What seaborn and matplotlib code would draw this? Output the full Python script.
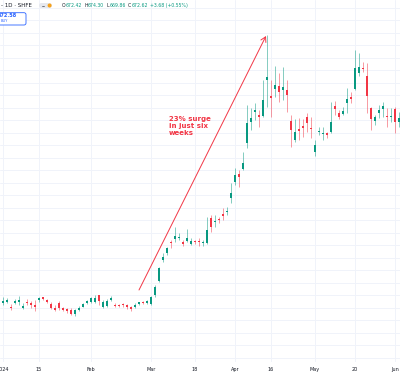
import matplotlib
matplotlib.use("Agg")
import matplotlib.pyplot as plt
from matplotlib.patches import FancyBboxPatch, Circle
import numpy as np
import pandas as pd
import seaborn as sns

# daily candles, 2 Jan 2024 .. 3 Jun 2024 (trading days only)
opens = [481.7, 482.4, 480.4, 482.0, 482.2, 479.8, 482.4, 481.8, 481.0, 483.0,
         484.0, 483.0, 481.4, 480.0, 482.0, 479.6, 479.4, 479.0, 477.4, 479.0,
         480.4, 482.0, 482.4, 482.4, 485.0, 480.4, 480.8, 483.2, 481.2, 481.0,
         481.4, 481.0, 480.0, 480.2, 481.4, 482.4, 482.0, 481.4, 485.0, 490.7,
         499.0, 501.9, 506.3, 507.3, 507.7, 506.2, 506.6, 505.4, 506.7, 506.6,
         505.8, 505.7, 515.8, 514.2, 515.3, 517.4, 518.2, 523.7, 530.3, 533.4,
         535.3, 545.7, 554.1, 558.3, 557.0, 556.7, 571.0, 564.6, 567.4, 568.6,
         567.0, 567.0, 554.7, 547.0, 551.3, 552.6, 556.1, 551.9, 542.3, 550.2,
         549.3, 549.7, 550.3, 560.6, 557.7, 557.3, 561.7, 564.1, 567.3, 573.7,
         575.9, 572.6, 559.9, 554.7, 557.9, 559.3, 556.6, 556.1, 559.5, 554.3]
highs = [484.2, 483.8, 481.4, 483.4, 484.8, 481.8, 483.4, 482.6, 483.0, 484.4,
         484.4, 483.4, 482.2, 481.0, 482.6, 480.2, 479.8, 479.8, 479.4, 480.6,
         481.8, 483.2, 484.2, 485.2, 485.2, 483.0, 483.4, 484.6, 481.8, 481.4,
         482.0, 481.6, 480.6, 481.8, 482.4, 482.8, 483.0, 484.6, 489.0, 496.3,
         501.7, 504.3, 507.0, 512.1, 509.7, 507.0, 511.3, 507.7, 507.2, 507.7,
         507.0, 516.3, 517.0, 517.0, 516.3, 519.7, 520.3, 529.7, 535.7, 535.0,
         542.3, 561.0, 559.7, 561.9, 559.0, 571.0, 589.0, 571.0, 576.6, 573.8,
         576.2, 571.0, 557.0, 555.3, 555.7, 555.3, 557.7, 556.3, 547.0, 552.3,
         552.3, 550.3, 562.3, 562.7, 559.0, 560.3, 567.7, 566.3, 583.0, 581.9,
         578.3, 577.7, 560.3, 557.0, 561.0, 562.3, 559.7, 559.7, 560.3, 558.2]
lows = [481.0, 482.0, 479.0, 481.4, 481.0, 479.4, 481.0, 479.8, 478.6, 482.4,
        483.0, 481.8, 479.4, 478.6, 479.0, 478.6, 478.0, 477.0, 476.8, 478.6,
        480.2, 481.4, 482.0, 481.8, 481.0, 480.0, 480.4, 482.8, 480.2, 480.2,
        480.4, 479.6, 478.8, 479.8, 481.0, 481.6, 481.6, 481.0, 484.4, 490.3,
        498.3, 501.0, 503.7, 506.3, 507.0, 504.6, 506.3, 505.0, 505.6, 504.6,
        504.6, 505.4, 510.3, 512.1, 513.7, 515.0, 517.0, 521.7, 529.0, 528.3,
        535.0, 543.7, 551.0, 555.0, 552.3, 556.3, 560.3, 556.1, 564.2, 562.2,
        563.0, 558.2, 544.3, 546.3, 547.0, 548.3, 550.3, 547.7, 540.6, 549.0,
        547.0, 547.7, 549.7, 557.0, 555.3, 557.0, 557.7, 561.7, 567.0, 572.6,
        574.3, 557.7, 551.0, 553.0, 555.7, 556.3, 552.3, 554.3, 549.7, 552.2]
closes = [482.7, 483.0, 479.7, 482.6, 482.8, 480.8, 481.8, 481.2, 480.2, 483.8,
          483.4, 482.2, 480.0, 479.0, 479.8, 479.0, 478.6, 477.6, 478.8, 479.8,
          481.4, 482.6, 483.6, 483.8, 482.6, 482.4, 482.6, 484.0, 480.6, 480.6,
          481.0, 480.2, 479.4, 481.2, 482.0, 482.0, 482.6, 484.0, 488.2, 495.8,
          500.3, 503.8, 505.7, 508.6, 508.3, 505.4, 507.9, 506.7, 506.2, 506.2,
          506.1, 511.0, 512.2, 514.6, 514.9, 516.6, 518.7, 525.7, 533.0, 532.1,
          537.9, 553.7, 555.9, 559.0, 556.1, 563.0, 572.2, 563.7, 569.0, 566.2,
          568.2, 565.0, 551.0, 550.3, 550.7, 551.9, 553.7, 551.5, 545.0, 550.7,
          549.7, 549.1, 554.3, 559.5, 556.3, 558.6, 563.3, 563.4, 575.7, 576.1,
          575.3, 564.6, 555.3, 556.1, 559.0, 560.6, 556.1, 556.7, 554.3, 555.8]

tick_pos = [0, 9, 22, 37, 48, 58, 67, 78, 88, 98]
tick_labels = ["2024", "15", "Feb", "Mar", "18", "Apr", "16", "May", "20", "Jun"]

header_title = "- 1D · SHFE"
header_ohlc = [("O", "672.42"), ("H", "674.30"), ("L", "669.86"), ("C", "672.62")]
header_change = "+3.68 (+0.55%)"
buy_price = "672.58"
note = "23% surge\nin just six\nweeks"

UP = "#089981"
DOWN = "#f23645"
INK = "#131722"
GRID = "#f0f3fa"

df = pd.DataFrame({"open": opens, "high": highs, "low": lows, "close": closes})
df["idx"] = np.arange(len(df))
df["color"] = np.where(df["close"] >= df["open"], UP, DOWN)

sns.set_style("white")
fig = plt.figure(figsize=(4, 3.76), dpi=100)
ax = fig.add_axes([0, 14 / 376, 1, 362 / 376])

# grid
for p in range(460, 605, 5):
    ax.axhline(p, color=GRID, lw=0.7, zorder=0)
for t in tick_pos:
    ax.axvline(t, color=GRID, lw=0.7, zorder=0)

# candles
ax.vlines(df["idx"], df["low"], df["high"], colors=df["color"], lw=0.7, alpha=0.5, zorder=2)
body = np.maximum((df["close"] - df["open"]).abs(), 0.4)
ax.bar(df["idx"], body, bottom=df[["open", "close"]].min(axis=1), width=0.72,
       color=df["color"], lw=0, zorder=3)

ax.set_xlim(-0.75, 99.25)
ax.set_ylim(458.2, 603)
ax.set_yticks([])
ax.set_xticks(tick_pos, tick_labels)
ax.tick_params(axis="x", length=0, pad=3.6, labelsize=3.5, labelcolor=INK)
for s in ax.spines.values():
    s.set_visible(False)

# annotation
ax.annotate("", xy=(65.75, 588.6), xytext=(34, 487),
            arrowprops=dict(arrowstyle="->,head_length=0.35,head_width=0.2",
                            color=DOWN, lw=0.7, shrinkA=0, shrinkB=0), zorder=5)
ax.text(41.5, 556.6, note, color=DOWN, fontsize=5, fontweight="bold",
        va="top", ha="left", linespacing=1.2, zorder=5)

# header overlay in pixel coordinates
ov = fig.add_axes([0, 0, 1, 1])
ov.set_xlim(0, 400)
ov.set_ylim(376, 0)
ov.axis("off")
ov.patch.set_visible(False)

ov.text(1, 5.2, header_title, fontsize=4.0, color=INK, va="center", ha="left")
ov.add_patch(FancyBboxPatch((39, 3), 13, 5, boxstyle="round,pad=0,rounding_size=2.5",
                            fc="#e6e8ee", ec="none"))
ov.plot([41.5, 44], [5.5, 5.5], color="#5d606b", lw=0.6)
ov.add_patch(Circle((49.6, 5.5), 2.0, fc="#f7a21b", ec="none"))

fig.canvas.draw()
r = fig.canvas.get_renderer()
x = 61.5
for k, v in header_ohlc:
    t = ov.text(x, 5.2, k, fontsize=3.3, color=INK, va="center", ha="left")
    x += t.get_window_extent(r).width + 0.3
    t = ov.text(x, 5.2, v, fontsize=3.3, color=UP, va="center", ha="left")
    x += t.get_window_extent(r).width + 2.3
ov.text(x, 5.2, header_change, fontsize=3.3, color=UP, va="center", ha="left")

ov.add_patch(FancyBboxPatch((-20, 12.7), 46, 12.3, boxstyle="round,pad=0,rounding_size=2",
                            fc="white", ec="#2962ff", lw=0.6))
ov.text(7, 15.8, buy_price, fontsize=3.6, color="#2962ff", fontweight="bold",
        va="center", ha="center")
ov.text(4.5, 21.3, "BUY", fontsize=2.6, color="#2962ff", va="center", ha="center")

fig.savefig("out.png", dpi=100)
